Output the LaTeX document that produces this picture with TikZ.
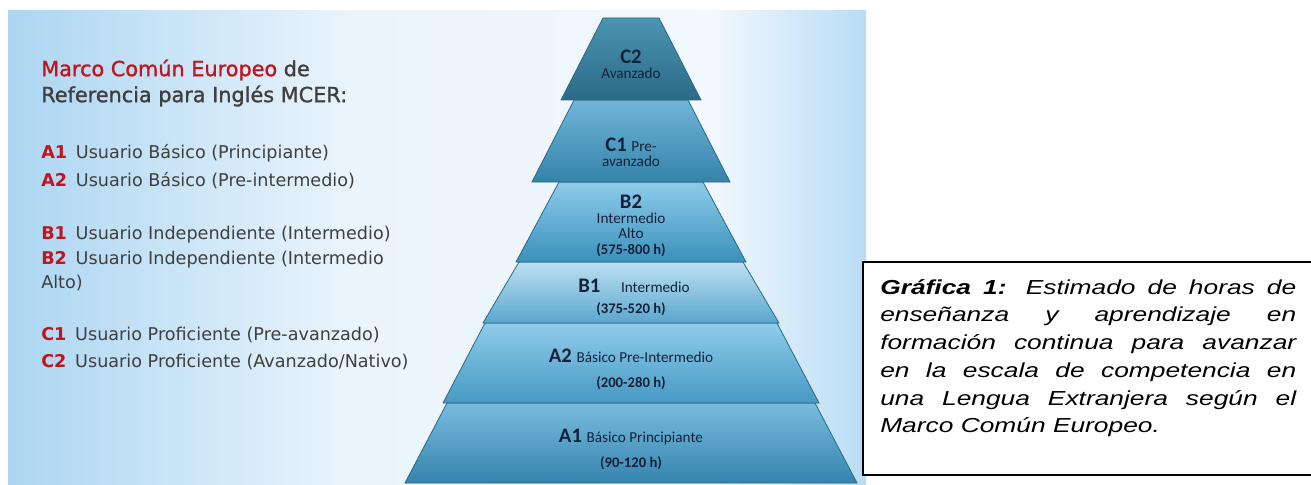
\documentclass[tikz,border=0pt]{standalone}
\usepackage{graphicx}
\usepackage{fontspec}
\setmainfont{DejaVu Sans}
\newfontfamily\headfont[FakeBold=1.2]{DejaVu Sans}
\newfontfamily\carl{Carlito}
\newfontfamily\arialf{Liberation Sans}
\definecolor{bgL}{HTML}{ACD6F2}
\definecolor{bgM}{HTML}{EAF4FC}
\definecolor{bgM2}{HTML}{F2F8FD}
\definecolor{bgR}{HTML}{B8DCF5}
\definecolor{mred}{HTML}{C0141E}
\definecolor{mgray}{HTML}{3F3F3F}
\definecolor{ptext}{HTML}{14213A}
\definecolor{tierline}{HTML}{2A6884}
\definecolor{a1t}{HTML}{78BCDF}\definecolor{a1b}{HTML}{3584AE}
\definecolor{a2t}{HTML}{90CCEA}\definecolor{a2b}{HTML}{4699C4}
\definecolor{b1t}{HTML}{BDE0F2}\definecolor{b1b}{HTML}{5AA7CE}
\definecolor{b2t}{HTML}{8ECCEA}\definecolor{b2b}{HTML}{3A90BC}
\definecolor{c1t}{HTML}{6FB6D9}\definecolor{c1b}{HTML}{3583AA}
\definecolor{c2t}{HTML}{4B94B2}\definecolor{c2b}{HTML}{2B6A86}
\pgfdeclarehorizontalshading{bgshade}{100bp}{color(0bp)=(bgL); color(25bp)=(bgL); color(45bp)=(bgM); color(66bp)=(bgM2); color(75bp)=(bgR); color(100bp)=(bgR)}
\newcommand\pyrtier[7]{%
  \shadedraw[top color=#6, bottom color=#7, draw=tierline, line width=0.6pt]
    (631-#4,#2) -- (631+#4,#2) -- (631+#5,#3) -- (631-#5,#3) -- cycle;
  \coordinate (#1) at (631,{(#2+#3)/2});
}
\begin{document}
\begin{tikzpicture}[x=0.75pt,y=-0.75pt,
  head/.style={anchor=west, inner sep=0pt, font=\headfont\fontsize{15.6}{18}\selectfont, text=mgray},
  item/.style={anchor=west, inner sep=0pt, font=\fontsize{13.2}{15}\selectfont, text=mgray},
  code/.style={anchor=center, inner sep=0pt, text=ptext, font=\carl\bfseries\fontsize{15.5}{17}\selectfont},
  sub/.style={anchor=center, inner sep=0pt, text=ptext, font=\carl\fontsize{11.4}{13}\selectfont},
  hrs/.style={anchor=center, inner sep=0pt, text=ptext, font=\carl\bfseries\fontsize{11}{13}\selectfont}]
\useasboundingbox (0,0) rectangle (1311,485);
\fill[white] (0,0) rectangle (1311,485);
\shade[shading=bgshade] (8,11) rectangle (866,485);

% heading
\node[head] (h1) at (41,70) {\textcolor{mred}{Marco Común Europeo} de};
\node[head] (h2) at (41,96) {Referencia para Inglés MCER:};
% list
\node[item] (la1) at (41,153) {\textcolor{mred}{\textbf{A1}}\enspace Usuario Básico (Principiante)};
\node[item] (la2) at (41,181) {\textcolor{mred}{\textbf{A2}}\enspace Usuario Básico (Pre-intermedio)};
\node[item] (lb1) at (41,235) {\textcolor{mred}{\textbf{B1}}\enspace Usuario Independiente (Intermedio)};
\node[item] (lb2) at (41,260) {\textcolor{mred}{\textbf{B2}}\enspace Usuario Independiente (Intermedio};
\node[item] (lb2b) at (41,283) {Alto)};
\node[item] (lc1) at (41,335) {\textcolor{mred}{\textbf{C1}}\enspace Usuario Proficiente (Pre-avanzado)};
\node[item] (lc2) at (41,362) {\textcolor{mred}{\textbf{C2}}\enspace Usuario Proficiente (Avanzado/Nativo)};

% pyramid
\pyrtier{tA1}{403}{483}{184}{226}{a1t}{a1b}
\pyrtier{tA2}{323}{403}{146}{188}{a2t}{a2b}
\pyrtier{tB1}{262}{323}{112}{148}{b1t}{b1b}
\pyrtier{tB2}{182}{262}{72}{115}{b2t}{b2b}
\pyrtier{tC1}{100}{182}{57}{99}{c1t}{c1b}
\pyrtier{tC2}{18}{100}{28}{70}{c2t}{c2b}

\node[code] (c2a) at (631,57) {C2};
\node[sub]  (c2b) at (631,73) {Avanzado};
\node[code] (c1a) at (631,145) {C1 {\mdseries\fontsize{11.4}{13}\selectfont Pre-}};
\node[sub]  (c1b) at (631,161) {avanzado};
\node[code] (b2a) at (631,202) {B2};
\node[sub]  (b2b) at (631,218) {Intermedio};
\node[sub]  (b2c) at (631,233) {Alto};
\node[hrs]  (b2d) at (631,250) {(575-800 h)};
\node[code] (b1a) at (634,286) {B1\quad{\mdseries\fontsize{11.4}{13}\selectfont Intermedio}};
\node[hrs]  (b1b) at (631,309) {(375-520 h)};
\node[code] (a2a) at (631,356) {A2 {\mdseries\fontsize{11.4}{13}\selectfont Básico Pre-Intermedio}};
\node[hrs]  (a2b) at (631,383) {(200-280 h)};
\node[code] (a1a) at (631,437) {A1 {\mdseries\fontsize{11.4}{13}\selectfont Básico Principiante}};
\node[hrs]  (a1b) at (631,463) {(90-120 h)};

% caption box
\draw[line width=0.9pt, fill=white] (863,262) rectangle (1312,475);
\node[inner sep=0pt, anchor=north west] (cap) at (880,279)
  {\scalebox{1.3}[1]{\parbox{240pt}{\arialf\itshape\fontsize{15.2}{20.8}\selectfont
   \hyphenpenalty=10000 \exhyphenpenalty=10000
   \textbf{Gráfica 1:} Estimado de horas de\linebreak
   enseñanza y aprendizaje en\linebreak
   formación continua para avanzar\linebreak
   en la escala de competencia en\linebreak
   una Lengua Extranjera según el\linebreak
   Marco Común Europeo.}}};
\end{tikzpicture}
\end{document}
